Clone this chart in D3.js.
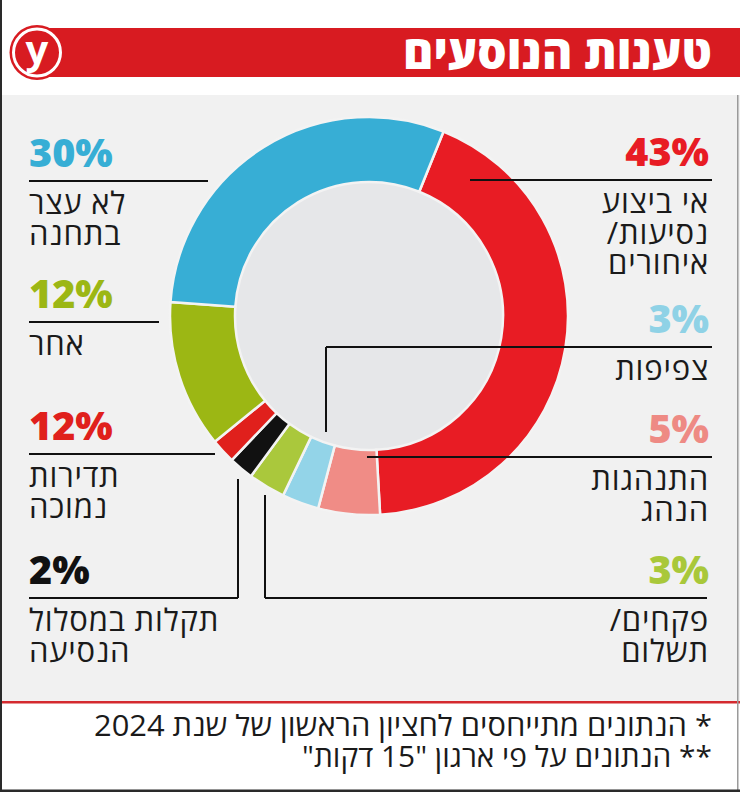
<!DOCTYPE html>
<html><head><meta charset="utf-8">
<script src="https://cdn.jsdelivr.net/npm/d3@7"></script>
<style>html,body{margin:0;padding:0;background:#fff;}svg{display:block;}</style>
</head><body>
<script>
// ---- data ----
const categories = ["אי ביצוע נסיעות/ איחורים","התנהגות הנהג","צפיפות","פקחים/ תשלום","תקלות במסלול הנסיעה","תדירות נמוכה","אחר","לא עצר בתחנה"];
const sliceValues = [43,5,3,3,2,2,12,30];          // slice sizes as drawn
const labelValues = [43,5,3,3,2,12,12,30];         // percentages as printed
const labelLines = [["אי ביצוע","נסיעות/","איחורים"],["התנהגות","הנהג"],["צפיפות"],["פקחים/","תשלום"],["תקלות במסלול","הנסיעה"],["תדירות","נמוכה"],["אחר"],["לא עצר","בתחנה"]];
const sliceColors = ["#e81c24","#f08c86","#93d4e8","#aac83c","#111111","#e0201c","#9cb714","#37aed5"];
const labelColors = ["#e81c24","#ee8a84","#8fd2e6","#a9c83a","#111111","#e0201c","#9cb714","#37aed5"];
const title = "טענות הנוסעים";
const footnotes = ["* הנתונים מתייחסים לחציון הראשון של שנת 2024","** הנתונים על פי ארגון \"15 דקות\""];

// ---- layout ----
const W = 740, H = 792;
const cx = 369, cy = 316, rOuter = 199, rInner = 134;
const startDeg = 22;
const layout = [
  {side:"R", y:180, x0:470, x1:712, leader:null},
  {side:"R", y:457, x0:367, x1:712, leader:null},
  {side:"R", y:347, x0:326, x1:712, leader:[[326,432],[326,347]]},
  {side:"R", y:598, x0:265, x1:707, leader:[[265,495],[265,598]]},
  {side:"L", y:598, x0:29, x1:238, leader:[[238,479],[238,598]]},
  {side:"L", y:454, x0:29, x1:215, leader:null},
  {side:"L", y:322, x0:29, x1:159, leader:null},
  {side:"L", y:181, x0:29, x1:208, leader:null}
];
const footWidths = [618, 410];
const hebFont = "'Open Sans','Liberation Sans','DejaVu Sans',sans-serif";

const svg = d3.select("body").append("svg").attr("width",W).attr("height",H);
svg.append("rect").attr("width",W).attr("height",H).attr("fill","#fff");
svg.append("rect").attr("x",0).attr("y",95).attr("width",W).attr("height",607).attr("fill","#f1f1f1");
svg.append("rect").attr("x",0).attr("y",701).attr("width",W).attr("height",2.5).attr("fill","#d42a2f");

// header
svg.append("rect").attr("x",37).attr("y",28).attr("width",W-37).attr("height",49).attr("fill","#d81b21");
svg.append("circle").attr("cx",37).attr("cy",52.5).attr("r",27.5).attr("fill","#d81b21");
svg.append("circle").attr("cx",37).attr("cy",52.5).attr("r",23.5).attr("fill","#d81b21").attr("stroke","#fff").attr("stroke-width",3);
svg.append("text").attr("x",37).attr("y",64).attr("text-anchor","middle")
  .attr("font-family","'Open Sans',sans-serif").attr("font-weight",700).attr("font-size",40).attr("fill","#fff").text("y");
svg.append("text").attr("x",712).attr("y",69).attr("direction","rtl").attr("text-anchor","start")
  .attr("font-family",hebFont).attr("font-weight",800).attr("font-size",47).attr("fill","#fff")
  .attr("textLength",309).attr("lengthAdjust","spacingAndGlyphs").text(title);

// donut
const g = svg.append("g").attr("transform",`translate(${cx},${cy})`);
g.append("circle").attr("r",rInner).attr("fill","#e6e7e9");
const pie = d3.pie().sort(null).value(d=>d)
  .startAngle(startDeg*Math.PI/180).endAngle(startDeg*Math.PI/180+2*Math.PI);
const arc = d3.arc().innerRadius(rInner).outerRadius(rOuter);
g.selectAll("path.slice").data(pie(sliceValues)).join("path").attr("class","slice")
  .attr("d",arc).attr("fill",(d,i)=>sliceColors[i])
  .attr("stroke","#f3f3f3").attr("stroke-width",2.5).attr("stroke-linejoin","miter");

// labels
const lab = svg.append("g");
layout.forEach((L,i)=>{
  lab.append("line").attr("x1",L.x0).attr("x2",L.x1).attr("y1",L.y).attr("y2",L.y)
    .attr("stroke","#111").attr("stroke-width",2);
  if (L.leader) {
    lab.append("path").attr("d",d3.line()(L.leader)).attr("fill","none").attr("stroke","#111").attr("stroke-width",2);
  }
  const left = L.side==="L";
  const tx = left ? 29 : 709;
  lab.append("text").attr("x",tx).attr("y",L.y-14)
    .attr("text-anchor",left?"start":"end")
    .attr("font-family","'Open Sans',sans-serif").attr("font-weight",800).attr("font-size",39.5)
    .attr("fill",labelColors[i]).text(labelValues[i]+"%");
  const t = lab.append("text").attr("direction","rtl").attr("text-anchor",left?"end":"start")
      .attr("font-family",hebFont).attr("font-size",31).attr("letter-spacing",0.8)
      .attr("fill","#1a1a1a");
  labelLines[i].forEach((s,j)=>{
    t.append("tspan").attr("x",tx).attr("y",L.y+33+j*30.5).text(s);
  });
});

// footnotes
footnotes.forEach((s,j)=>{
  svg.append("text").attr("x",712).attr("y",736+j*31).attr("direction","rtl").attr("text-anchor","start")
    .attr("font-family",hebFont).attr("font-size",29).attr("fill","#1a1a1a")
    .attr("textLength",footWidths[j]).attr("lengthAdjust","spacingAndGlyphs").text(s);
});

// frame
svg.append("rect").attr("x",0).attr("y",0).attr("width",2).attr("height",H).attr("fill","#2a2a2a");
svg.append("rect").attr("x",737).attr("y",95).attr("width",1.5).attr("height",H-95).attr("fill","#9a9a9a");
svg.append("rect").attr("x",0).attr("y",H-2.5).attr("width",W).attr("height",2.5).attr("fill","#2a2a2a");
</script>
</body></html>
